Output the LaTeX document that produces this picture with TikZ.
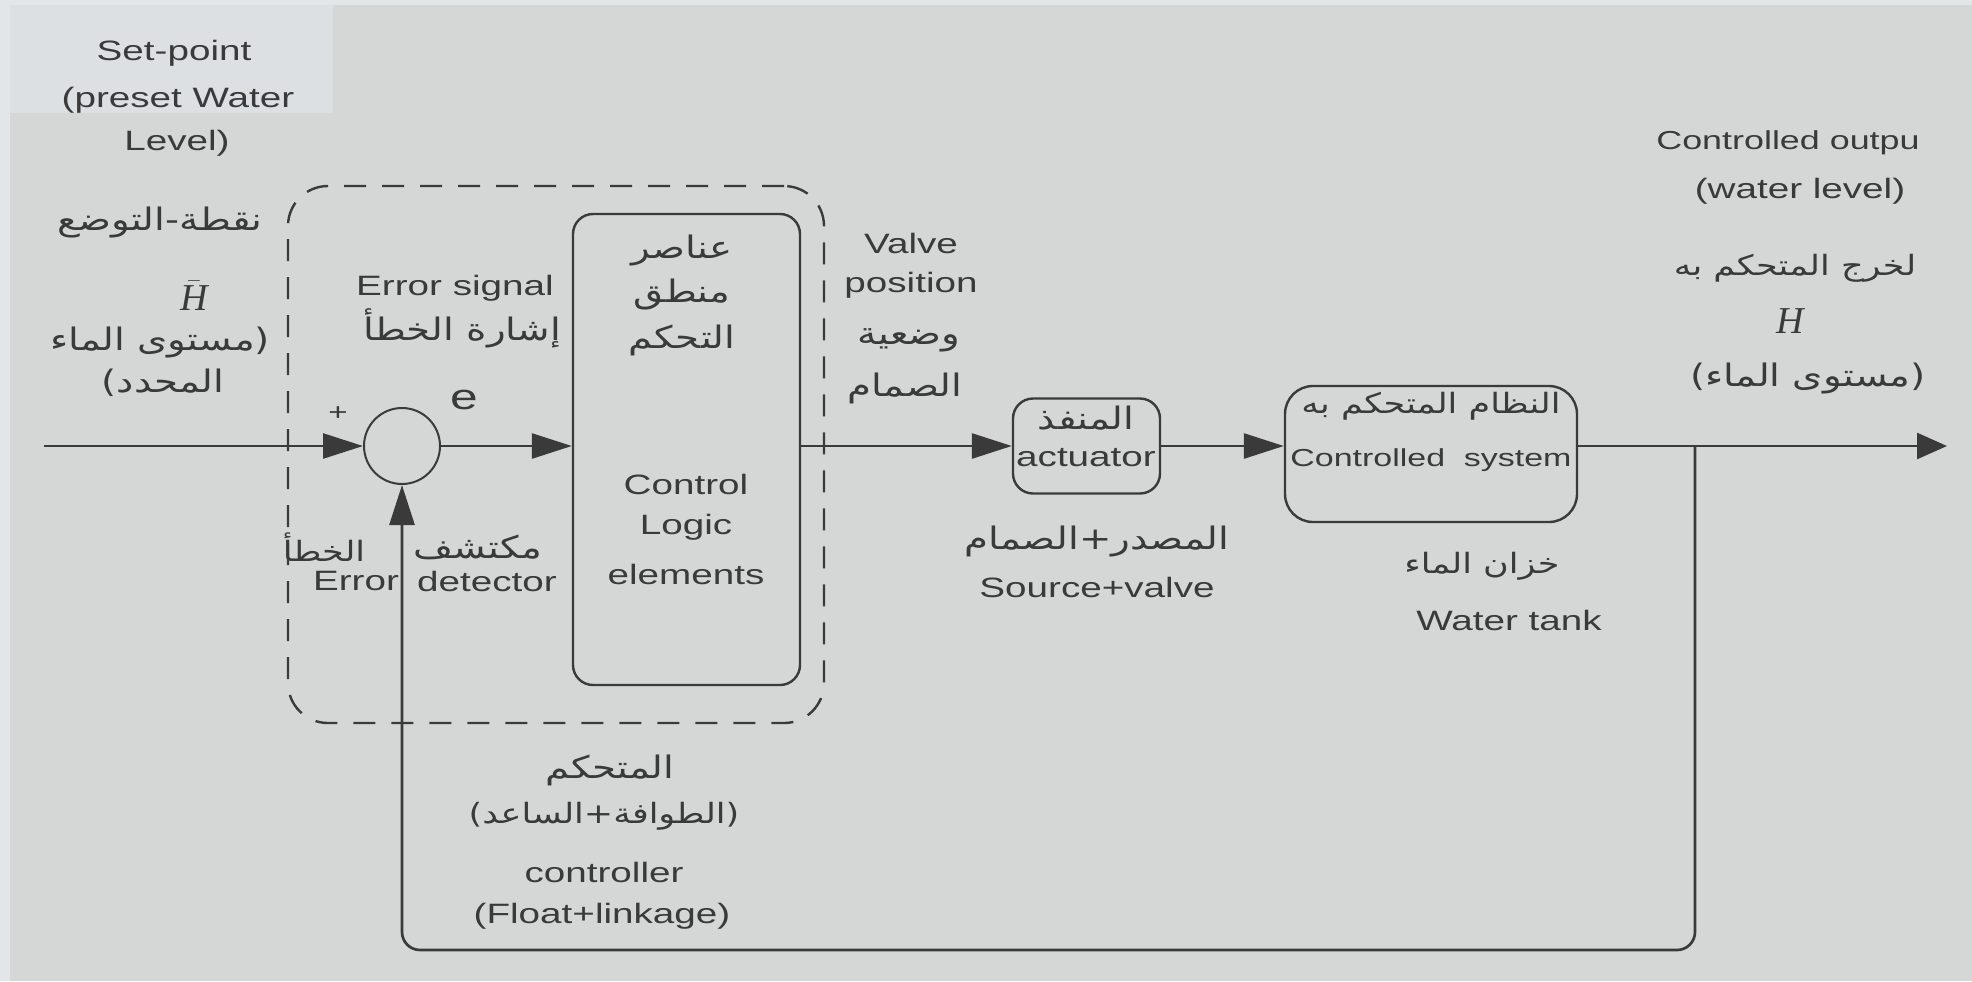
\documentclass[tikz,border=0pt]{standalone}
\usepackage{fontspec}
\setmainfont[FakeStretch=1.38]{Liberation Sans}
\newfontfamily\arfont[Script=Arabic,FakeStretch=1.25]{DejaVu Sans}
\newfontfamily\seriffont{Liberation Serif}
\TeXXeTstate=1
\usetikzlibrary{arrows.meta,calc}
\definecolor{paper}{HTML}{D5D7D6}
\definecolor{paperlight}{HTML}{DCE0E2}
\definecolor{edge}{HTML}{E2E6E9}
\definecolor{ink}{HTML}{3A3A3A}
\tikzset{
  txt/.style={text=ink, inner sep=0pt, font=\fontsize{14pt}{22pt}\selectfont},
  smalltxt/.style={text=ink, inner sep=0pt, font=\fontsize{12.3pt}{18pt}\selectfont},
  artxt/.style={text=ink, inner sep=0pt, font=\fontsize{15.5pt}{20pt}\selectfont\arfont},
  arsmall/.style={text=ink, inner sep=0pt, font=\fontsize{14pt}{20pt}\selectfont\arfont},
  sym/.style={text=ink, inner sep=0pt, font=\fontsize{19pt}{22pt}\selectfont\seriffont\itshape},
  conn/.style={draw=ink, line width=1.35pt},
  arr/.style={conn, -{Triangle[length=20pt,width=12.5pt]}},
  block/.style={draw=ink, line width=1.2pt, rounded corners=10pt, inner sep=0pt},
  ctrlbox/.style={draw=ink, line width=1.2pt, dash pattern=on 11pt off 8pt, rounded corners=20pt, inner sep=0pt},
}
\begin{document}
\begin{tikzpicture}[x=0.5pt,y=-0.5pt]
% background
\fill[paper] (0,0) rectangle (1972,981);
\fill[edge] (0,0) rectangle (1972,5);
\fill[edge] (0,0) rectangle (10,981);
\fill[paperlight] (10,5) rectangle (333,113);
\useasboundingbox (0,0) rectangle (1972,981);

% main blocks
\node[ctrlbox, minimum width=268pt, minimum height=268.5pt] (cbox) at (556,454.5) {};
\node[draw=ink, line width=1pt, circle, minimum size=38pt, inner sep=0pt] (sum) at (402,446) {};
\node[block, minimum width=113.5pt, minimum height=235.5pt] (logic) at (686.5,449.5) {};
\node[block, minimum width=73.5pt, minimum height=47.5pt] (act) at (1086.5,446) {};
\node[block, minimum width=146pt, minimum height=68pt, rounded corners=14pt] (sys) at (1431,454) {};

\coordinate (in) at (44,446);
\coordinate (out) at (1947,446);
\coordinate (j) at (1695,446);
\coordinate (fbc) at (402,950);

% connectors
\draw[arr] (in) -- (sum.west);
\draw[arr] (sum.east) -- (sum.east -| logic.west);
\draw[arr] (logic.east |- act.west) -- (act.west);
\draw[arr] (act.east) -- (act.east -| sys.west);
\draw[conn, -{Triangle[length=15pt,width=13pt]}] (sys.east |- out) -- (out);
\draw[arr, rounded corners=9pt] (j) |- (fbc) -- (sum.south);

% left labels
\node[txt] (sp1) at (174,53) {Set-point};
\node[txt] (sp2) at (178,100) {(preset Water};
\node[txt] (sp3) at (177,143) {Level)};
\node[artxt, anchor=base, text height=10pt, text depth=2pt] (arsp) at (160,230) {\beginR نقطة-التوضع\endR};
\node[sym, anchor=base, text height=15pt, text depth=0pt] (hbar) at (194,310) {$\bar{\hbox{\seriffont\itshape H}}$};
\node[artxt] (arlvl1) at (160,342) {\beginR (مستوى الماء\endR};
\node[artxt] (arlvl2) at (163,383) {\beginR المحدد)\endR};

% error detector labels
\node[text=ink, inner sep=0pt, font=\fontsize{12pt}{14pt}\selectfont] (plus) at (338,414) {+};
\node[txt] (es) at (455,288) {Error signal};
\node[artxt] (ares) at (462,328) {\beginR إشارة الخطأ\endR};
\node[text=ink, inner sep=0pt, font=\fontsize{18pt}{20pt}\selectfont] (e) at (464,400) {e};
\node[arsmall] (ared1) at (324,547) {\beginR الخطأ\endR};
\node[artxt] (ared2) at (478,547) {\beginR مكتشف\endR};
\node[txt] (ed1) at (356,581) {Error};
\node[txt] (ed2) at (487,581) {detector};

% logic box labels
\node[artxt] (arl1) at (682,250) {\beginR عناصر\endR};
\node[artxt] (arl2) at (682,295) {\beginR منطق\endR};
\node[artxt] (arl3) at (682,340) {\beginR التحكم\endR};
\node[txt] (cl) at (686,484) {Control};
\node[txt] (lg) at (686,527) {Logic};
\node[txt] (el) at (686,574) {elements};

% valve labels
\node[txt] (v1) at (911,243) {Valve};
\node[txt] (v2) at (911,285) {position};
\node[artxt] (arv1) at (909,340) {\beginR وضعية\endR};
\node[artxt] (arv2) at (905,388) {\beginR الصمام\endR};

% actuator
\node[artxt] (aract) at (1086,418) {\beginR المنفذ\endR};
\node[txt] (actt) at (1086,458) {actuator};
\node[artxt] (arsv) at (1097,541) {\beginR المصدر+الصمام\endR};
\node[txt] (sv) at (1097,587) {Source+valve};

% controlled system
\node[arsmall] (arsys) at (1431,406) {\beginR النظام المتحكم به\endR};
\node[smalltxt] (syst) at (1431,460) {Controlled~~system};
\node[arsmall] (arwt) at (1482,566) {\beginR خزان الماء\endR};
\node[txt] (wt) at (1509,620) {Water tank};

% output labels
\node[txt, font=\fontsize{13pt}{22pt}\selectfont] (co1) at (1788,143) {Controlled outpu};
\node[txt] (co2) at (1800,191) {(water level)};
\node[arsmall] (arco) at (1795,268) {\beginR لخرج المتحكم به\endR};
\node[sym] (hout) at (1790,321) {H};
\node[artxt] (arco2) at (1808,378) {\beginR (مستوى الماء)\endR};

% controller labels
\node[artxt] (arc1) at (610,770) {\beginR المتحكم\endR};
\node[arsmall] (arc2) at (604,816) {\beginR (الطوافة+الساعد)\endR};
\node[txt] (c3) at (604,872) {controller};
\node[txt] (c4) at (602,916) {(Float+linkage)};
\end{tikzpicture}
\end{document}
